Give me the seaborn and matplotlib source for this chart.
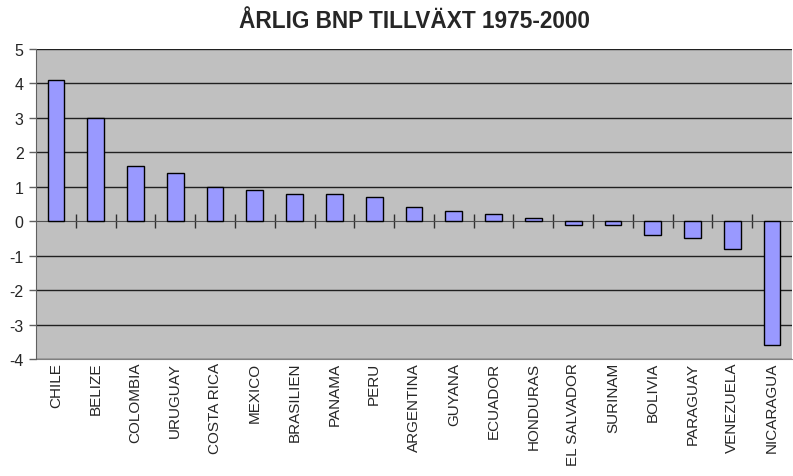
import numpy as np
import pandas as pd
import matplotlib
matplotlib.use("Agg")
import matplotlib.pyplot as plt
import seaborn as sns

countries = ["CHILE", "BELIZE", "COLOMBIA", "URUGUAY", "COSTA RICA", "MEXICO",
             "BRASILIEN", "PANAMA", "PERU", "ARGENTINA", "GUYANA", "ECUADOR",
             "HONDURAS", "EL SALVADOR", "SURINAM", "BOLIVIA", "PARAGUAY",
             "VENEZUELA", "NICARAGUA"]
growth = [4.1, 3.0, 1.6, 1.4, 1.0, 0.9, 0.8, 0.8, 0.7, 0.4, 0.3, 0.2, 0.1,
          -0.1, -0.1, -0.4, -0.5, -0.8, -3.6]
y_ticks = [-4, -3, -2, -1, 0, 1, 2, 3, 4, 5]

df = pd.DataFrame({"Land": countries, "Tillvaxt": growth})

sns.set_style("white")
plt.rcParams["font.family"] = ["Liberation Sans", "DejaVu Sans"]

fig = plt.figure(figsize=(7.93, 4.77), dpi=100)
ax = fig.add_axes([36 / 793, 1 - 360 / 477, 756 / 793, 310 / 477])
ax.set_facecolor("#C0C0C0")

sns.barplot(data=df, x="Land", y="Tillvaxt", color="#9999FF", edgecolor="black",
            linewidth=1, width=0.42, saturation=1, ax=ax, zorder=3)

n = len(countries)
ax.set_xlim(-0.5, n - 0.5)
ax.set_ylim(-4, 5)
ax.set_yticks(y_ticks)
ax.set_yticklabels([str(v) for v in y_ticks], fontsize=11.5)
ax.tick_params(axis="y", left=True, length=5, width=1, color="#606060", pad=4)

# horisontella stödlinjer
for v in y_ticks:
    if v != 0:
        ax.axhline(v, color="#202020", linewidth=1, zorder=1)

# x-axeln vid noll med skiljestreck mellan kategorierna
ax.spines["bottom"].set_position(("data", 0))
ax.spines["bottom"].set_color("#505050")
ax.spines["bottom"].set_zorder(2)
ax.set_xticks([])
ax.set_xticks(np.arange(n - 1) + 0.5, minor=True)
ax.tick_params(axis="x", which="minor", bottom=True, direction="inout",
               length=10, width=1, color="#303030")
ax.tick_params(axis="x", which="major", length=0, labelbottom=False)
ax.set_xlabel("")
ax.set_ylabel("")

for s in ["top", "right"]:
    ax.spines[s].set_visible(False)
ax.spines["left"].set_color("#606060")

# kategorinamn längs nederkanten
sec = ax.secondary_xaxis(0)
sec.set_xticks(np.arange(n))
sec.set_xticklabels(countries, rotation=90, fontsize=11)
sec.tick_params(length=0, pad=2)
sec.spines["bottom"].set_color("#808080")

fig.text((36 + 792) / 2 / 793, 1 - 21 / 477, "ÅRLIG BNP TILLVÄXT 1975-2000",
         ha="center", va="center", fontsize=16.3, fontweight="bold")

fig.savefig("out.png", dpi=100)
